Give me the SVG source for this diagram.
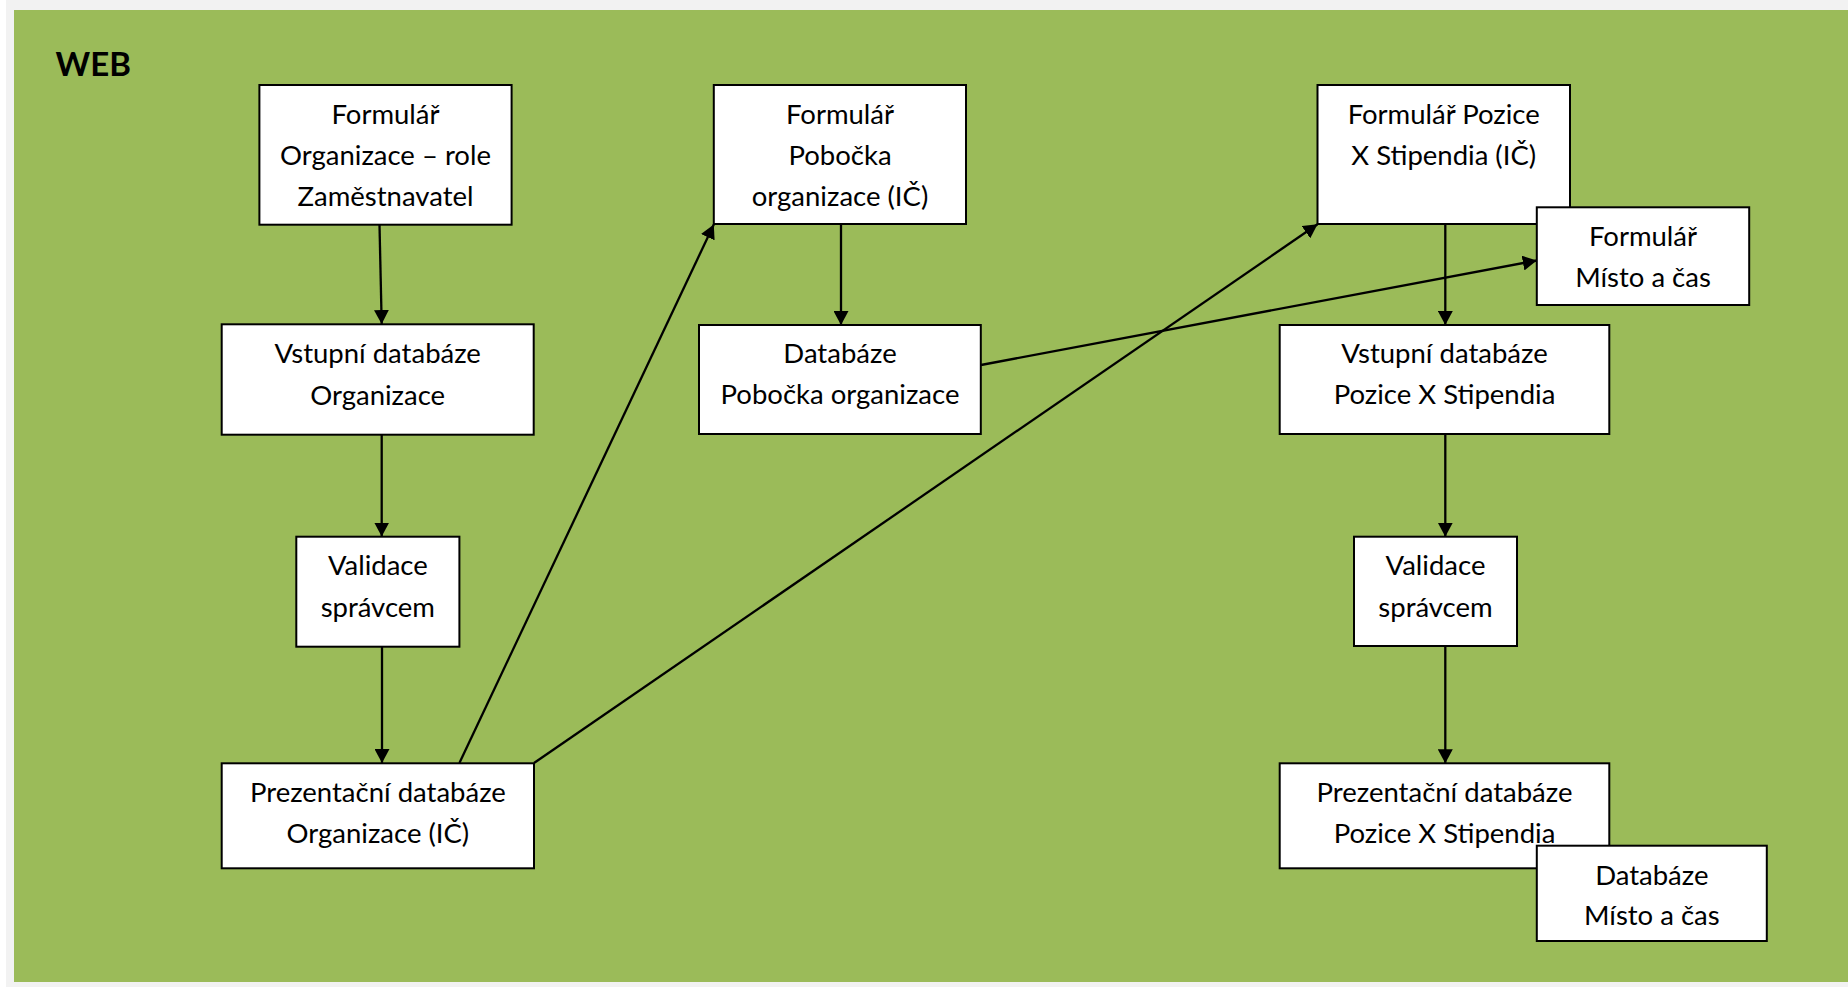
<svg xmlns="http://www.w3.org/2000/svg" width="1848" height="987" viewBox="0 0 1848 987">
<style>
.box{fill:#ffffff;stroke:#000000;stroke-width:2}
.t{font-family:Lato,"Open Sans","Liberation Sans",sans-serif;font-size:27.5px;fill:#000000;text-anchor:middle}
.title{font-family:Lato,"Open Sans","Liberation Sans",sans-serif;font-size:33px;font-weight:bold;fill:#000000}
.c{stroke:#000000;stroke-width:2.3;fill:none;marker-end:url(#ah)}
</style>
<defs>
<marker id="ah" viewBox="0 0 14 15" refX="14" refY="7.5" markerWidth="14" markerHeight="15" markerUnits="userSpaceOnUse" orient="auto">
<path d="M0,0 L14,7.5 L0,15 z" fill="#000000"/>
</marker>
</defs>
<rect x="0" y="0" width="1848" height="987" fill="#ffffff"/>
<rect x="6" y="0" width="1842" height="987" fill="#f2f2f2"/>
<rect x="14" y="10" width="1834" height="972" fill="#9bbb59"/>
<text class="title" x="55.5" y="76">WEB</text>

<g id="connectors">
<line class="c" x1="379.5" y1="225" x2="381.7" y2="324"/>
<line class="c" x1="381.7" y1="435" x2="381.7" y2="536.5"/>
<line class="c" x1="382" y1="647" x2="382" y2="763"/>
<line class="c" x1="459.4" y1="763" x2="713.8" y2="224.5"/>
<line class="c" x1="534" y1="763" x2="1317.5" y2="224.3"/>
<line class="c" x1="841" y1="224" x2="841" y2="325"/>
<line class="c" x1="981" y1="365" x2="1536.8" y2="260.5"/>
<line class="c" x1="1445.3" y1="224" x2="1445.3" y2="325"/>
<line class="c" x1="1445.3" y1="434" x2="1445.3" y2="536.7"/>
<line class="c" x1="1445.3" y1="646" x2="1445.3" y2="763.3"/>
</g>

<g id="n1">
<rect class="box" x="259.4" y="85" width="252.2" height="139.7"/>
<text class="t" x="385.5" y="124">Formulář</text>
<text class="t" x="385.5" y="165">Organizace – role</text>
<text class="t" x="385.5" y="206">Zaměstnavatel</text>
</g>
<g id="n2">
<rect class="box" x="713.8" y="85" width="252.2" height="139"/>
<text class="t" x="840" y="124">Formulář</text>
<text class="t" x="840" y="165">Pobočka</text>
<text class="t" x="840" y="206">organizace (IČ)</text>
</g>
<g id="n3">
<rect class="box" x="699" y="325" width="281.8" height="109"/>
<text class="t" x="840" y="363">Databáze</text>
<text class="t" x="840" y="404">Pobočka organizace</text>
</g>
<g id="n4">
<rect class="box" x="1317.5" y="85" width="252.5" height="139"/>
<text class="t" x="1443.7" y="124">Formulář Pozice</text>
<text class="t" x="1443.7" y="165">X Stipendia (IČ)</text>
</g>
<g id="n5">
<rect class="box" x="1536.8" y="207.3" width="212.4" height="97.7"/>
<text class="t" x="1643" y="245.7">Formulář</text>
<text class="t" x="1643" y="286.7">Místo a čas</text>
</g>
<g id="n6">
<rect class="box" x="1279.7" y="325" width="329.6" height="109"/>
<text class="t" x="1444.5" y="363">Vstupní databáze</text>
<text class="t" x="1444.5" y="404">Pozice X Stipendia</text>
</g>
<g id="n7">
<rect class="box" x="221.7" y="324.3" width="312" height="110.4"/>
<text class="t" x="377.7" y="362.7">Vstupní databáze</text>
<text class="t" x="377.7" y="405">Organizace</text>
</g>
<g id="n8">
<rect class="box" x="296.3" y="536.7" width="163.1" height="110"/>
<text class="t" x="377.8" y="575">Validace</text>
<text class="t" x="377.8" y="616.7">správcem</text>
</g>
<g id="n9">
<rect class="box" x="221.7" y="763.3" width="312.3" height="105"/>
<text class="t" x="377.9" y="801.7">Prezentační databáze</text>
<text class="t" x="377.9" y="843.3">Organizace (IČ)</text>
</g>
<g id="n10">
<rect class="box" x="1354" y="536.7" width="163" height="109.3"/>
<text class="t" x="1435.5" y="575">Validace</text>
<text class="t" x="1435.5" y="616.7">správcem</text>
</g>
<g id="n11">
<rect class="box" x="1279.7" y="763.3" width="329.6" height="105"/>
<text class="t" x="1444.5" y="801.7">Prezentační databáze</text>
<text class="t" x="1444.5" y="843.3">Pozice X Stipendia</text>
</g>
<g id="n12">
<rect class="box" x="1536.8" y="845.7" width="230" height="95.3"/>
<text class="t" x="1651.8" y="885">Databáze</text>
<text class="t" x="1651.8" y="925">Místo a čas</text>
</g>
</svg>
